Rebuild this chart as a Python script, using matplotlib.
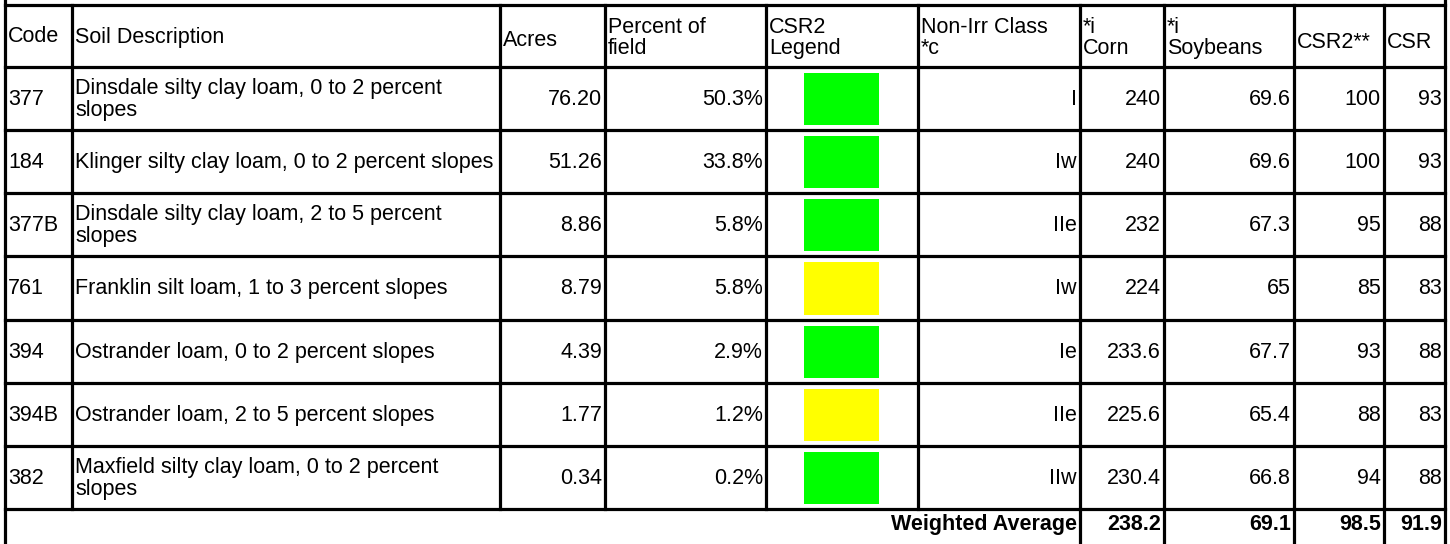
import textwrap
import matplotlib.pyplot as plt
from matplotlib.patches import Rectangle

# Table data
headers = ['Code', 'Soil Description', 'Acres', 'Percent of\nfield', 'CSR2\nLegend',
           'Non-Irr Class\n*c', '*i\nCorn', '*i\nSoybeans', 'CSR2**', 'CSR']
codes = ['377', '184', '377B', '761', '394', '394B', '382']
descriptions = [
    'Dinsdale silty clay loam, 0 to 2 percent slopes',
    'Klinger silty clay loam, 0 to 2 percent slopes',
    'Dinsdale silty clay loam, 2 to 5 percent slopes',
    'Franklin silt loam, 1 to 3 percent slopes',
    'Ostrander loam, 0 to 2 percent slopes',
    'Ostrander loam, 2 to 5 percent slopes',
    'Maxfield silty clay loam, 0 to 2 percent slopes',
]
acres = [76.20, 51.26, 8.86, 8.79, 4.39, 1.77, 0.34]
pct_field = [50.3, 33.8, 5.8, 5.8, 2.9, 1.2, 0.2]
legend_colors = ['#00ff00', '#00ff00', '#00ff00', '#ffff00', '#00ff00', '#ffff00', '#00ff00']
nonirr_class = ['I', 'Iw', 'IIe', 'Iw', 'Ie', 'IIe', 'IIw']
corn = [240, 240, 232, 224, 233.6, 225.6, 230.4]
soybeans = [69.6, 69.6, 67.3, 65, 67.7, 65.4, 66.8]
csr2 = [100, 100, 95, 85, 93, 88, 94]
csr = [93, 93, 88, 83, 88, 83, 88]
avg_corn, avg_soy, avg_csr2, avg_csr = 238.2, 69.1, 98.5, 91.9

###############################################################################
# Layout (pixel coordinates)
###############################################################################
W, H = 1450, 544
col_x = [5, 72, 500, 605, 766, 918, 1080, 1164, 1294, 1384, 1445]
head_top, head_bot = 5, 67
row_h = 63.14
row_y = [head_bot + i * row_h for i in range(len(codes) + 1)]
LW = 2.3
FS = 15.5
FONT = 'Liberation Sans'

fig = plt.figure(figsize=(W / 100, H / 100), dpi=100)
ax = fig.add_axes([0, 0, 1, 1])
ax.set_xlim(0, W)
ax.set_ylim(H, 0)
ax.axis('off')


def txt(x, y, s, ha='left', weight='normal'):
    ax.text(x, y, s, ha=ha, va='center', fontsize=FS, family=FONT,
            weight=weight, linespacing=1.05)


# grid lines
for y in [head_top] + row_y:
    ax.plot([col_x[0], col_x[-1]], [y, y], color='black', lw=LW,
            solid_capstyle='projecting')
for x in [col_x[0], col_x[-1]]:
    ax.plot([x, x], [0, H], color='black', lw=LW)
for x in col_x[1:-1]:
    ax.plot([x, x], [head_top, row_y[-1]], color='black', lw=LW)
for x in col_x[6:-1]:
    ax.plot([x, x], [row_y[-1], H], color='black', lw=LW)

# header
head_yc = {0: 37, 1: 37, 2: 41, 8: 42, 9: 42}
for j, h in enumerate(headers):
    txt(col_x[j] + 3, head_yc.get(j, 38), h)

# rows
for i in range(len(codes)):
    yc = (row_y[i] + row_y[i + 1]) / 2 + 1
    txt(col_x[0] + 3, yc, codes[i])
    txt(col_x[1] + 3, yc, textwrap.fill(descriptions[i], 46))
    right = [
        (3, '{:.2f}'.format(acres[i])),
        (4, '{:.1f}%'.format(pct_field[i])),
        (6, nonirr_class[i]),
        (7, '{:g}'.format(corn[i])),
        (8, '{:g}'.format(soybeans[i])),
        (9, '{:g}'.format(csr2[i])),
        (10, '{:g}'.format(csr[i])),
    ]
    for k, s in right:
        txt(col_x[k] - 3, yc, s, ha='right')
    cx = (col_x[4] + col_x[5]) / 2
    ax.add_patch(Rectangle((cx - 37.5, row_y[i] + 6), 75, row_h - 11,
                           facecolor=legend_colors[i], edgecolor='none'))

# weighted average footer
fy = (row_y[-1] + H) / 2 - 2
txt(col_x[6] - 3, fy, 'Weighted Average', ha='right', weight='bold')
for k, v in zip([7, 8, 9, 10], [avg_corn, avg_soy, avg_csr2, avg_csr]):
    txt(col_x[k] - 3, fy, '{:g}'.format(v), ha='right', weight='bold')

plt.savefig('out.png', dpi=100)
